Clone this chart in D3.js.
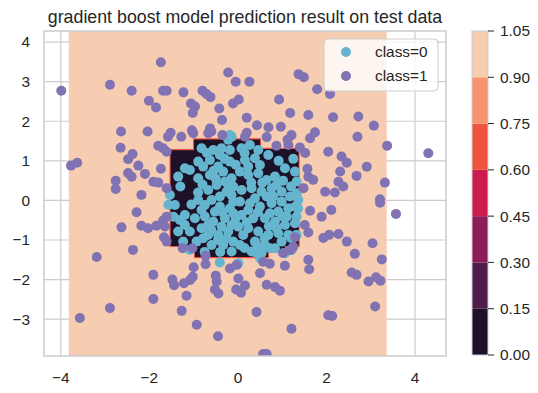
<!DOCTYPE html>
<html><head><meta charset="utf-8">
<script src="https://cdn.jsdelivr.net/npm/d3@7"></script>
<style>body{margin:0;background:#fff}</style>
</head><body><svg id="chart" width="538" height="393"></svg>
<script>
const title = "gradient boost model prediction result on test data";
const xTicks = [-4, -2, 0, 2, 4];
const yTicks = [-3, -2, -1, 0, 1, 2, 3, 4];
const xDomain = [-4.38, 4.70];
const yDomain = [-3.93, 4.28];
const levels = [0, 0.15, 0.30, 0.45, 0.60, 0.75, 0.90, 1.05];
const levelColors = ["#1d1128", "#4e1d4b", "#8d1c5b", "#cc1c4f", "#ee5440", "#f4936d", "#f6cdb1"];
const meshX = [-3.82, 3.36];
const class0Region = [[-1.52,1.27],[-0.99,1.27],[-0.99,1.54],[0.50,1.54],[0.50,1.30],[1.37,1.30],[1.37,-1.15],[1.06,-1.15],[1.06,-1.29],[0.68,-1.29],[0.68,-1.43],[-0.97,-1.43],[-0.97,-1.15],[-1.52,-1.15]];
const legendLabels = ["class=0", "class=1"];
const pointColors = ["#64b5cd", "#8172b3"];

const class0Points = [
[-0.821,1.317],[-0.558,1.275],[-0.407,1.149],[-0.181,1.275],[-0.897,0.981],[-0.633,1.023],[-1.198,0.812],[-1.085,0.770],
[-1.349,0.602],[-0.897,0.560],[-0.633,0.644],[-0.445,0.854],[-0.332,0.728],[-0.181,0.981],[-0.143,0.560],[-0.671,0.265],
[-0.482,0.391],[-0.256,0.223],[-0.143,0.139],[-1.537,0.139],[-1.424,-0.114],[-0.897,0.013],[-0.746,-0.114],[-0.595,0.013],
[-0.407,-0.156],[-0.181,-0.198],[-1.198,-0.366],[-1.311,-0.493],[-0.972,-0.450],[-0.746,-0.408],[-0.558,-0.535],[-0.294,-0.450],
[-0.143,-0.619],[-1.349,-0.787],[-1.085,-0.787],[-0.821,-0.703],[-0.671,-0.871],[-0.445,-0.871],[-0.219,-0.787],[-0.106,-1.040],
[-1.236,-1.040],[-0.934,-1.040],[-0.595,-1.124],[-0.332,-1.124],[-0.143,-1.292],[-1.085,-1.250],
[-0.784,0.854],[-0.294,0.476],[-0.407,0.097],[-0.520,-0.282],[-0.671,-0.619],[-0.369,-0.661],[-0.106,-0.324],[-0.821,-0.240],
[-1.198,-0.619],[-0.784,-0.955],[-0.256,-0.955],[-0.106,-0.030],[-0.106,0.349],[-0.369,1.317],
[-0.70,1.20],[-0.30,1.05],[-0.55,0.75],[-0.22,0.40],[-0.35,-0.30],[-0.60,-0.75],[-0.45,-1.00],[-0.75,-1.30],
[-0.40,-1.30],[-0.05,0.90],[-0.05,-0.45],[-0.90,0.20],[-1.30,0.35],[-1.05,-0.10],[-0.50,0.55],[-0.80,0.40],
[0.083,1.317],[0.271,1.401],[0.459,1.275],[0.158,1.023],[0.384,1.065],[0.685,1.149],[0.045,0.728],[0.233,0.644],
[0.459,0.686],[0.648,0.518],[0.836,0.602],[1.062,0.812],[1.288,0.728],[1.326,0.476],[0.083,0.265],[0.309,0.307],
[0.535,0.223],[0.761,0.307],[0.987,0.223],[1.175,0.097],[1.363,0.013],[0.045,-0.030],[0.271,-0.072],[0.497,-0.156],
[0.761,-0.072],[0.911,-0.282],[1.137,-0.198],[1.326,-0.408],[0.083,-0.366],[0.346,-0.450],[0.610,-0.450],[0.836,-0.535],
[1.062,-0.619],[1.288,-0.577],[0.007,-0.661],[0.233,-0.703],[0.459,-0.787],[0.685,-0.871],[0.911,-0.829],[1.137,-0.871],
[1.326,-0.871],[0.384,-1.040],[0.610,-1.124],[0.309,-1.292],[0.836,-1.208],[0.987,-1.040],[1.213,-1.250],
[0.233,0.854],[0.497,0.896],[0.874,0.391],[0.384,0.055],[0.648,0.097],[0.987,-0.030],[0.233,-0.240],[0.723,-0.324],
[1.100,-0.408],[0.120,-0.871],[0.874,-0.703],[0.535,-1.334],[0.045,-1.124],[1.062,-1.334],
[0.15,1.20],[0.30,0.45],[0.55,0.45],[0.80,0.10],[1.20,0.35],[1.02,0.50],[0.45,-0.30],[0.20,-0.55],
[0.70,-0.65],[1.00,-0.40],[1.20,-0.95],[0.45,-1.15],[0.15,-1.20],[1.25,1.05],[0.92,1.00],[0.60,-0.95],
[-0.41,-1.57],[0.01,-1.59],[-0.18,1.65],[-0.22,1.53],[-0.14,1.61],[-1.57,-0.11],[-1.46,-0.41],[1.29,-0.16],
[1.36,-0.20],[1.10,-0.41],[1.33,0.18],[0.42,-1.33],[0.50,-1.46],[0.72,-1.21]
];

const class1Points = [
[-3.99,2.77],[-2.89,2.92],[-1.74,3.49],[-2.40,2.77],[-1.69,2.77],[-1.61,2.77],[-1.23,2.73],[-0.80,2.77],
[-0.71,2.69],[-0.62,2.61],[-0.22,3.23],[-0.05,3.00],[0.26,3.00],[-2.01,2.52],[-1.85,2.35],[-1.06,2.45],
[-0.97,2.37],[-1.02,2.21],[-0.42,2.32],[-0.11,2.45],[0.02,2.55],[0.20,2.09],[0.43,1.90],[-0.36,2.03],
[-2.64,1.74],[-2.04,1.74],[-1.04,1.77],[-1.01,1.70],[-0.63,1.82],[-0.60,1.74],[-0.67,1.70],[-0.35,1.65],
[0.20,1.71],[0.65,1.60],[0.69,1.85],[-1.52,1.71],[-1.58,1.61],[-1.28,1.61],[-1.80,1.38],[-1.69,1.32],
[-1.61,1.23],[-2.65,1.33],[-2.38,1.17],[-2.48,1.04],[-2.25,0.88],[-3.77,0.88],[-3.63,0.95],[-2.48,0.69],
[-2.40,0.60],[-2.10,0.67],[-2.76,0.50],[-2.76,0.29],[-1.91,0.47],[-1.80,0.45],[-1.74,0.80],[-2.18,0.14],
[-1.61,0.31],[0.16,1.61],
[1.37,3.19],[1.49,3.11],[1.79,2.81],[2.08,2.69],[0.93,2.55],[1.18,2.21],[1.59,2.16],[2.15,2.10],
[2.72,2.12],[3.07,1.89],[0.97,1.86],[1.21,1.65],[1.12,1.53],[1.74,1.72],[1.63,1.57],[2.70,1.61],
[3.37,1.38],[4.30,1.19],[1.40,1.34],[2.04,1.23],[2.34,1.11],[0.87,1.38],[1.14,1.40],[2.91,0.85],
[2.46,0.95],[2.31,0.73],[1.59,0.60],[1.70,0.52],[2.68,0.62],[3.32,0.45],[2.27,0.47],[2.38,0.35],
[1.48,0.31],[1.97,0.22],[2.19,0.20],[3.21,0.03],[1.52,1.20],[1.57,0.80],
[3.57,-0.34],[1.63,-0.26],[1.89,-0.41],[2.11,-0.24],[3.21,-0.06],[1.51,-0.62],[1.59,-0.81],[1.93,-0.95],
[2.06,-0.87],[2.27,-0.85],[2.46,-1.04],[3.04,-1.08],[2.64,-1.35],[3.25,-1.49],[1.29,-0.93],[1.02,-1.33],
[1.18,-1.25],[1.25,-1.17],[1.59,-1.50],[1.61,-1.74],[1.06,-1.65],[0.57,-1.55],[0.72,-1.60],[2.57,-1.82],
[2.68,-1.88],[2.95,-2.05],[3.12,-1.94],[3.22,-2.03],[0.84,-2.19],[0.95,-2.28],[3.10,-2.68],[2.04,-2.90],
[2.13,-2.92],[1.21,-3.24],[0.57,-3.88],[0.65,-3.88],[0.50,-1.84],[0.65,-2.13],[0.42,-2.82],
[-2.29,-0.30],[-2.63,-0.68],[-2.18,-0.64],[-2.03,-0.70],[-1.84,-0.64],[-1.69,-0.51],[-1.61,-0.41],[-1.65,-0.66],
[-1.67,-0.93],[-1.61,-1.04],[-2.37,-1.25],[-3.19,-1.43],[-1.25,-1.21],[-1.03,-1.21],[-0.73,-1.40],[-0.73,-1.61],
[-1.00,-1.69],[-1.91,-1.88],[-1.48,-2.00],[-1.44,-2.14],[-1.22,-2.09],[-1.08,-2.01],[-1.02,-1.93],[-0.50,-1.90],
[-0.48,-2.05],[-0.18,-1.72],[-0.03,-1.63],[0.01,-1.97],[-0.52,-2.25],[-0.44,-2.35],[-1.16,-2.41],[-1.91,-2.49],
[-2.89,-2.72],[-3.57,-2.97],[-1.27,-2.79],[-0.93,-3.14],[-0.45,-3.43],[-0.04,-2.25],[0.07,-2.33],[0.16,-2.15]
];

const W = 538, H = 393;
const m = {left: 44, right: 446, top: 31, bottom: 356};
const font = "'Liberation Sans', Arial, sans-serif";
const textColor = "#262626";
const gridColor = "#cccccc";

const svg = d3.select("#chart");
const x = d3.scaleLinear().domain(xDomain).range([m.left, m.right]);
const y = d3.scaleLinear().domain(yDomain).range([m.bottom, m.top]);

svg.append("rect").attr("width", W).attr("height", H).attr("fill", "#fff");

svg.append("defs").append("clipPath").attr("id", "clip")
  .append("rect").attr("x", m.left).attr("y", m.top)
  .attr("width", m.right - m.left).attr("height", m.bottom - m.top);

// grid
const grid = svg.append("g");
grid.selectAll("line.gx").data(xTicks).join("line")
  .attr("x1", d => x(d)).attr("x2", d => x(d)).attr("y1", m.top).attr("y2", m.bottom)
  .attr("stroke", gridColor).attr("stroke-width", 1.2);
grid.selectAll("line.gy").data(yTicks).join("line")
  .attr("y1", d => y(d)).attr("y2", d => y(d)).attr("x1", m.left).attr("x2", m.right)
  .attr("stroke", gridColor).attr("stroke-width", 1.2);

// contour regions
const plot = svg.append("g").attr("clip-path", "url(#clip)");
plot.append("rect")
  .attr("x", x(meshX[0])).attr("y", y(yDomain[1]))
  .attr("width", x(meshX[1]) - x(meshX[0])).attr("height", y(yDomain[0]) - y(yDomain[1]))
  .attr("fill", levelColors[6]);
const line = d3.line().x(d => x(d[0])).y(d => y(d[1])).curve(d3.curveLinearClosed);
plot.append("path").attr("d", line(class0Region))
  .attr("fill", "none").attr("stroke", levelColors[4]).attr("stroke-width", 2.2);
plot.append("path").attr("d", line(class0Region))
  .attr("fill", levelColors[0]);

// scatter
const r = 5;
plot.append("g").selectAll("circle").data(class0Points).join("circle")
  .attr("cx", d => x(d[0])).attr("cy", d => y(d[1])).attr("r", r).attr("fill", pointColors[0]);
plot.append("g").selectAll("circle").data(class1Points).join("circle")
  .attr("cx", d => x(d[0])).attr("cy", d => y(d[1])).attr("r", r).attr("fill", pointColors[1]);

// spines
svg.append("rect").attr("x", m.left).attr("y", m.top)
  .attr("width", m.right - m.left).attr("height", m.bottom - m.top)
  .attr("fill", "none").attr("stroke", gridColor).attr("stroke-width", 1.5);

const fmt = d => (d < 0 ? "\u2212" + Math.abs(d) : String(d));
svg.append("g").selectAll("text").data(xTicks).join("text")
  .attr("x", d => x(d)).attr("y", 382.5).attr("text-anchor", "middle")
  .attr("font-family", font).attr("font-size", 15.4).attr("fill", textColor).text(fmt);
svg.append("g").selectAll("text").data(yTicks).join("text")
  .attr("x", 30).attr("y", d => y(d)).attr("dy", "0.35em").attr("text-anchor", "end")
  .attr("font-family", font).attr("font-size", 15.4).attr("fill", textColor).text(fmt);

svg.append("text").attr("x", (m.left + m.right) / 2).attr("y", 22.5).attr("text-anchor", "middle")
  .attr("font-family", font).attr("font-size", 17.8).attr("fill", textColor).text(title);

// legend
const lg = svg.append("g");
lg.append("rect").attr("x", 324).attr("y", 39).attr("width", 114).attr("height", 52).attr("rx", 4)
  .attr("fill", "#ffffff").attr("fill-opacity", 0.8).attr("stroke", gridColor).attr("stroke-width", 1);
legendLabels.forEach((lab, i) => {
  lg.append("circle").attr("cx", 346).attr("cy", 52 + i * 24).attr("r", r).attr("fill", pointColors[i]);
  lg.append("text").attr("x", 375).attr("y", 52 + i * 24).attr("dy", "0.35em")
    .attr("font-family", font).attr("font-size", 15.4).attr("fill", textColor).text(lab);
});

// colorbar
const cb = {x: 472, w: 16, top: 31, bottom: 355};
const cy = d3.scaleLinear().domain([levels[0], levels[levels.length - 1]]).range([cb.bottom, cb.top]);
const cbg = svg.append("g");
cbg.selectAll("rect").data(levelColors).join("rect")
  .attr("x", cb.x).attr("width", cb.w)
  .attr("y", (d, i) => cy(levels[i + 1])).attr("height", (d, i) => cy(levels[i]) - cy(levels[i + 1]))
  .attr("fill", d => d);
cbg.append("rect").attr("x", cb.x).attr("y", cb.top).attr("width", cb.w).attr("height", cb.bottom - cb.top)
  .attr("fill", "none").attr("stroke", gridColor).attr("stroke-width", 1);
cbg.selectAll("line").data(levels).join("line")
  .attr("x1", cb.x + cb.w).attr("x2", cb.x + cb.w + 6).attr("y1", d => cy(d)).attr("y2", d => cy(d))
  .attr("stroke", textColor).attr("stroke-width", 1);
cbg.selectAll("text").data(levels).join("text")
  .attr("x", 500).attr("y", d => cy(d)).attr("dy", "0.35em")
  .attr("font-family", font).attr("font-size", 15.4).attr("fill", textColor).text(d => d.toFixed(2));
</script>
</body></html>
